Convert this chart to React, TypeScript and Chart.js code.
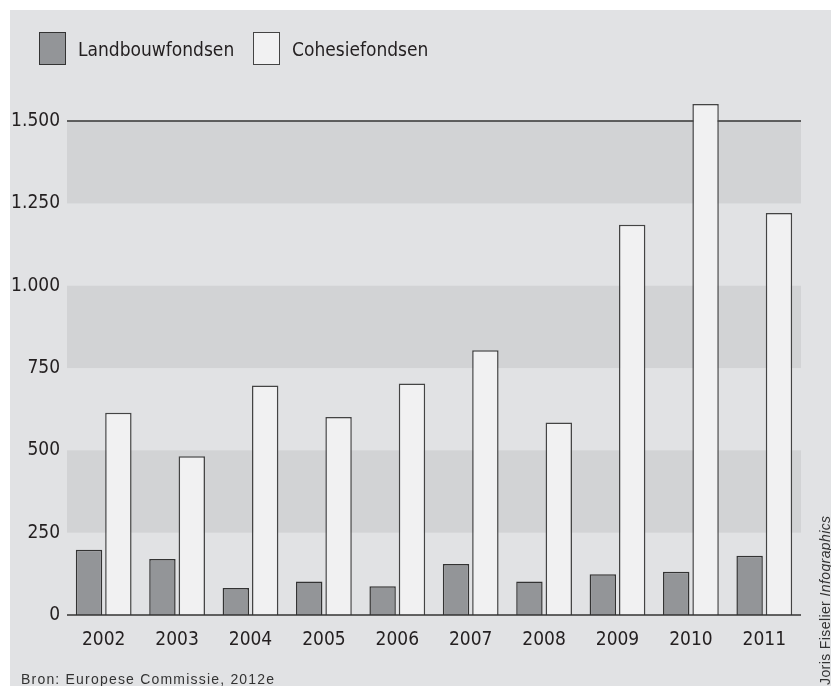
import React, { useEffect, useRef } from "react";
import { Chart, registerables } from "chart.js";

Chart.register(...registerables);

const years = ["2002", "2003", "2004", "2005", "2006", "2007", "2008", "2009", "2010", "2011"];
const landbouw = [198, 170, 82, 102, 87, 155, 102, 124, 131, 180];
const cohesie = [614, 482, 697, 601, 703, 804, 585, 1185, 1552, 1221];
const yTicks = [0, 250, 500, 750, 1000, 1250, 1500];
const bands = [
  [250, 500],
  [750, 1000],
  [1250, 1500],
];
const seriesNames = ["Landbouwfondsen", "Cohesiefondsen"];
const seriesFill = ["#939598", "#f1f1f2"];
const seriesBorder = ["#333333", "#444444"];
const sourceText = "Bron: Europese Commissie, 2012e";
const creditName = "Joris Fiselier ";
const creditItalic = "Infographics";

const CONDENSED = '"Liberation Sans Narrow", "DejaVu Sans Condensed", "Roboto Condensed", sans-serif';
const TEXT = "#231f20";

const decorPlugin = {
  id: "decor",
  beforeDatasetsDraw(chart: any) {
    const { ctx, chartArea, scales } = chart;
    const y = scales.y;
    ctx.save();
    ctx.fillStyle = "#d2d3d5";
    for (const [a, b] of bands) {
      const top = y.getPixelForValue(b);
      const bot = y.getPixelForValue(a);
      ctx.fillRect(chartArea.left, top, chartArea.right - chartArea.left, bot - top);
    }
    const yl = y.getPixelForValue(1500);
    ctx.strokeStyle = "#333333";
    ctx.lineWidth = 1.5;
    ctx.beginPath();
    ctx.moveTo(chartArea.left, yl);
    ctx.lineTo(chartArea.right, yl);
    ctx.stroke();
    ctx.restore();
  },
  afterDatasetsDraw(chart: any) {
    const { ctx, chartArea, scales } = chart;
    const y0 = scales.y.getPixelForValue(0);
    ctx.save();
    ctx.strokeStyle = "#333333";
    ctx.lineWidth = 1.5;
    ctx.beginPath();
    ctx.moveTo(chartArea.left, y0);
    ctx.lineTo(chartArea.right, y0);
    ctx.stroke();
    ctx.restore();
  },
  afterDraw(chart: any) {
    const { ctx, width, height } = chart;
    ctx.save();
    ctx.fillStyle = "#333333";
    ctx.textBaseline = "alphabetic";
    ctx.textAlign = "left";
    ctx.font = '14px "Liberation Sans", Arial, sans-serif';
    (ctx as any).letterSpacing = "1.2px";
    ctx.fillText(sourceText, 11, height - 2);
    (ctx as any).letterSpacing = "0.4px";
    ctx.translate(width - 1, height - 1);
    ctx.rotate(-Math.PI / 2);
    ctx.font = '14px "Liberation Sans", Arial, sans-serif';
    ctx.fillText(creditName, 0, 0);
    const w = ctx.measureText(creditName).width;
    ctx.font = 'italic 14px "Liberation Sans", Arial, sans-serif';
    ctx.fillText(creditItalic, w, 0);
    ctx.restore();
  },
};

const legendLeft = [29, 243];

export default function App() {
  const ref = useRef<HTMLCanvasElement>(null);
  useEffect(() => {
    if (!ref.current) return;
    const chart = new Chart(ref.current, {
      type: "bar",
      data: {
        labels: years,
        datasets: [
          {
            label: seriesNames[0],
            data: landbouw,
            backgroundColor: seriesFill[0],
            borderColor: seriesBorder[0],
            borderWidth: 1.5,
          },
          {
            label: seriesNames[1],
            data: cohesie,
            backgroundColor: seriesFill[1],
            borderColor: seriesBorder[1],
            borderWidth: 1.5,
          },
        ],
      },
      options: {
        animation: false,
        responsive: false,
        devicePixelRatio: 1,
        layout: { padding: { left: 0, right: 30, top: 65, bottom: 22 } },
        plugins: {
          legend: { display: false },
          tooltip: { enabled: false },
        },
        scales: {
          x: {
            grid: { display: false, drawTicks: false },
            border: { display: false },
            ticks: { color: TEXT, font: { family: CONDENSED, size: 19 }, padding: 14 },
            afterFit(scale: any) {
              scale.height = 49;
            },
          },
          y: {
            min: 0,
            max: 1640,
            grid: { display: false, drawTicks: false },
            border: { display: false },
            ticks: {
              color: TEXT,
              font: { family: CONDENSED, size: 19 },
              padding: 7,
              callback: (v: any) => Number(v).toLocaleString("nl-NL"),
            },
            afterBuildTicks(scale: any) {
              scale.ticks = yTicks.map((v) => ({ value: v }));
            },
            afterFit(scale: any) {
              scale.width = 57;
            },
          },
        },
      },
      plugins: [decorPlugin],
    });
    return () => chart.destroy();
  }, []);
  return (
    <div style={{ position: "absolute", left: 10, top: 10, width: 821, height: 676, background: "#e1e2e4", overflow: "hidden" }}>
      <canvas ref={ref} width={821} height={676} style={{ display: "block", width: 821, height: 676 }} />
      {seriesNames.map((name, i) => (
        <React.Fragment key={name}>
          <div
            style={{
              position: "absolute",
              left: legendLeft[i],
              top: 22,
              width: 27,
              height: 33,
              boxSizing: "border-box",
              background: seriesFill[i],
              border: `1.5px solid ${seriesBorder[i]}`,
            }}
          />
          <div
            style={{
              position: "absolute",
              left: legendLeft[i] + 39,
              top: 28,
              lineHeight: "22px",
              fontFamily: CONDENSED,
              fontSize: 19,
              color: TEXT,
              whiteSpace: "nowrap",
            }}
          >
            {name}
          </div>
        </React.Fragment>
      ))}
    </div>
  );
}
